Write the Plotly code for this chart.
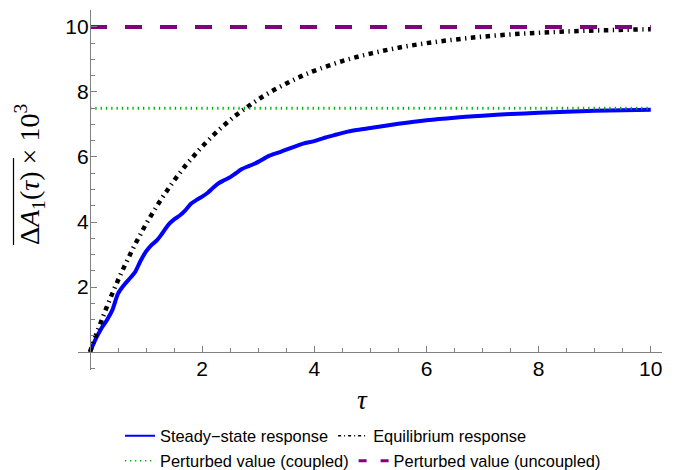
import plotly.graph_objects as go

# ---- data ----
steady_tau = [0.0, 0.1, 0.2, 0.3, 0.4, 0.5, 0.6, 0.7, 0.8, 0.9, 1.0, 1.1, 1.2, 1.3, 1.4, 1.5,
              1.6, 1.7, 1.8, 1.9, 2.0, 2.1, 2.2, 2.3, 2.4, 2.5, 2.6, 2.7, 2.8, 2.9, 3.0,
              3.2, 3.4, 3.6, 3.8, 4.0, 4.2, 4.4, 4.6, 4.8, 5.0, 5.5, 6.0, 6.5, 7.0, 7.5,
              8.0, 8.5, 9.0, 9.5, 10.0]
steady_val = [0.00, 0.40, 0.72, 0.98, 1.30, 1.80, 2.05, 2.25, 2.45, 2.80, 3.10, 3.30, 3.45, 3.68,
              3.92, 4.08, 4.20, 4.36, 4.56, 4.68, 4.78, 4.90, 5.06, 5.20, 5.29, 5.38, 5.50, 5.62,
              5.70, 5.77, 5.85, 6.04, 6.16, 6.29, 6.41, 6.49, 6.60, 6.69, 6.78, 6.84, 6.89, 7.02,
              7.13, 7.21, 7.27, 7.32, 7.36, 7.39, 7.42, 7.44, 7.45]

equil_tau = [0.0, 0.1, 0.2, 0.3, 0.4, 0.5, 0.6, 0.7, 0.8, 0.9, 1.0, 1.1, 1.2, 1.3, 1.4, 1.5,
             1.6, 1.7, 1.8, 1.9, 2.0, 2.2, 2.4, 2.6, 2.8, 3.0, 3.25, 3.5, 3.75, 4.0, 4.5,
             5.0, 5.5, 6.0, 6.5, 7.0, 7.5, 8.0, 8.5, 9.0, 9.5, 10.0]
equil_val = [0.00, 0.49, 0.95, 1.39, 1.81, 2.21, 2.59, 2.95, 3.30, 3.62, 3.94, 4.23, 4.51, 4.78,
             5.03, 5.28, 5.51, 5.73, 5.93, 6.13, 6.32, 6.67, 6.99, 7.28, 7.53, 7.77, 8.03, 8.26,
             8.47, 8.65, 8.95, 9.18, 9.36, 9.50, 9.61, 9.70, 9.77, 9.82, 9.86, 9.89, 9.91, 9.93]

coupled_tau = [0.0, 10.0]
coupled_val = [7.5, 7.5]
uncoupled_tau = [0.0, 10.0]
uncoupled_val = [10.0, 10.0]

series_names = ["Steady\u2212state response", "Equilibrium response",
                "Perturbed value (coupled)", "Perturbed value (uncoupled)"]

x_major = [2, 4, 6, 8, 10]
x_major_text = ["2", "4", "6", "8", "10"]
x_minor = [0.5, 1, 1.5, 2.5, 3, 3.5, 4.5, 5, 5.5, 6.5, 7, 7.5, 8.5, 9, 9.5]
y_major = [2, 4, 6, 8, 10]
y_major_text = ["2", "4", "6", "8", "10"]
y_minor = [-0.5, 0.5, 1, 1.5, 2.5, 3, 3.5, 4.5, 5, 5.5, 6.5, 7, 7.5, 8.5, 9, 9.5]

X_RANGE = [-0.214, 10.2]
Y_RANGE = [-0.55, 10.52]

BLUE = "#0000ff"
BLACK = "#000000"
GREEN = "#00b000"
PURPLE = "#800080"

fig = go.Figure()

# plotted curves
fig.add_trace(go.Scatter(x=steady_tau, y=steady_val, mode="lines",
                         line=dict(color=BLUE, width=4, shape="spline", smoothing=0.8),
                         showlegend=False, hoverinfo="skip"))
fig.add_trace(go.Scatter(x=equil_tau, y=equil_val, mode="lines",
                         line=dict(color=BLACK, width=4.5, shape="spline",
                                   dash="4.5px,4.5px,1.3px,4.5px"),
                         showlegend=False, hoverinfo="skip"))
fig.add_trace(go.Scatter(x=coupled_tau, y=coupled_val, mode="lines",
                         line=dict(color=GREEN, width=3, dash="1.3px,4px"),
                         showlegend=False, hoverinfo="skip"))
fig.add_trace(go.Scatter(x=uncoupled_tau, y=uncoupled_val, mode="lines",
                         line=dict(color=PURPLE, width=4, dash="17px,18px"),
                         showlegend=False, hoverinfo="skip"))

# legend entries (legend-only traces)
fig.add_trace(go.Scatter(x=[None], y=[None], mode="lines", name=series_names[0],
                         line=dict(color=BLUE, width=2), legend="legend"))
fig.add_trace(go.Scatter(x=[None], y=[None], mode="lines", name=series_names[1],
                         line=dict(color=BLACK, width=1.5, dash="3px,3px,1px,3px"),
                         legend="legend"))
fig.add_trace(go.Scatter(x=[None], y=[None], mode="lines", name=series_names[2],
                         line=dict(color=GREEN, width=1.5, dash="1.3px,3.7px"),
                         legend="legend2"))
fig.add_trace(go.Scatter(x=[None], y=[None], mode="lines", name=series_names[3],
                         line=dict(color=PURPLE, width=3, dash="8px,14px"),
                         legend="legend2"))

ML, MR, MT, MB = 78, 14, 10, 100
W, H = 676, 470
pw = W - ML - MR
ph = H - MT - MB

def px_x(p):
    return (p - ML) / pw

def px_y(p):
    return (MT + ph - p) / ph

x0_frac = (0 - X_RANGE[0]) / (X_RANGE[1] - X_RANGE[0])
y0_frac = (0 - Y_RANGE[0]) / (Y_RANGE[1] - Y_RANGE[0])

axis_common = dict(showgrid=False, zeroline=False, showline=True, linecolor="#808080",
                   linewidth=1.3, ticks="inside", ticklen=6, tickwidth=1.1,
                   tickcolor="#808080", tickmode="array", automargin=False,
                   tickfont=dict(family="Liberation Sans", size=21, color="#000000"))

legend_font = dict(family="Liberation Sans", size=16.4, color="#000000")

fig.update_layout(
    width=W, height=H,
    margin=dict(l=ML, r=MR, t=MT, b=MB, autoexpand=False),
    paper_bgcolor="white", plot_bgcolor="white",
    hovermode=False,
    xaxis=dict(range=X_RANGE, tickvals=x_major, ticktext=x_major_text,
               anchor="free", position=y0_frac, ticklabelstandoff=-2,
               minor=dict(tickvals=x_minor, ticks="inside", ticklen=3.5,
                          tickcolor="#808080", tickwidth=1.1),
               **axis_common),
    yaxis=dict(range=Y_RANGE, tickvals=y_major, ticktext=y_major_text,
               anchor="free", position=x0_frac, ticklabelstandoff=-3,
               minor=dict(tickvals=y_minor, ticks="inside", ticklen=3.5,
                          tickcolor="#808080", tickwidth=1.1),
               **axis_common),
    legend=dict(orientation="h", x=px_x(120), xanchor="left",
                y=px_y(436), yanchor="middle", font=legend_font,
                bgcolor="rgba(0,0,0,0)"),
    legend2=dict(orientation="h", x=px_x(120), xanchor="left",
                 y=px_y(461), yanchor="middle", font=legend_font,
                 bgcolor="rgba(0,0,0,0)"),
    annotations=[
        dict(text="<i>\u03c4</i>", xref="paper", yref="paper",
             x=px_x(362), y=px_y(400),
             showarrow=False, xanchor="center", yanchor="middle",
             font=dict(family="Liberation Serif", size=27, color="#000000")),
        dict(text="\u0394<i>A</i><sub>1</sub>(<i>\u03c4</i>) \u00d7 10<sup>3</sup>",
             xref="paper", yref="paper",
             x=px_x(29), y=px_y(175),
             showarrow=False, xanchor="center", yanchor="middle", textangle=-90,
             font=dict(family="Liberation Serif", size=28, color="#000000")),
    ],
    shapes=[
        # overline of the axis label
        dict(type="line", xref="paper", yref="paper",
             x0=px_x(13.5), x1=px_x(13.5), y0=px_y(158), y1=px_y(245),
             line=dict(color="#000000", width=1.2)),
    ],
)

fig.write_html("out.html", config={"displayModeBar": False},
               post_script="document.body.style.margin='0';document.body.style.overflow='hidden';")
